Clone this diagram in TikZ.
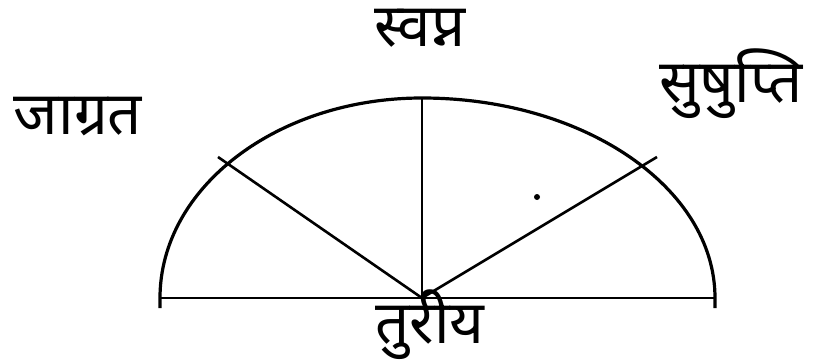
\documentclass[tikz,border=0pt]{standalone}
\usepackage{fontspec}
\newfontfamily\deva[Script=Devanagari]{Noto Sans}
\usetikzlibrary{positioning}

\begin{document}
\begin{tikzpicture}[
  x=0.5pt, y=0.5pt,
  statename/.style={font=\deva\fontsize{30}{36}\selectfont, anchor=base, inner sep=0pt},
  spoke/.style={line width=1.3pt},
  rim/.style={line width=1.6pt}
]
  \useasboundingbox (-422,-61) rectangle (396,298);
  % Points
  \coordinate (turiya) at (0,0);
  \coordinate (lend) at (-262,-10);
  \coordinate (rend) at (293,0);
  \coordinate (top) at (0,200);
  \coordinate (ltick) at (-204,141);
  \coordinate (rtick) at (235,141);
  % Nodes
  \node[statename] (jagrat) at (-344,163) {जाग्रत};
  \node[statename] (svapna) at (-2,251) {स्वप्न};
  \node[statename] (sushupti) at (309,195) {सुषुप्ति};
  \node[statename] (turiyatext) at (8,-45) {तुरीय};
  % Rim and base
  \draw[rim] (lend) -- ++(0,10)
    arc[start angle=180, end angle=90, x radius=262, y radius=200]
    arc[start angle=90, end angle=0, x radius=293, y radius=200] -- ++(0,-10);
  \draw[spoke] (-262,0) -- (rend);
  % Spokes
  \draw[spoke] (turiya) -- (ltick);
  \draw[spoke] (turiya) -- (top);
  \draw[spoke] (turiya) -- (rtick);
  \fill (115,101) circle[radius=3];
\end{tikzpicture}
\end{document}
